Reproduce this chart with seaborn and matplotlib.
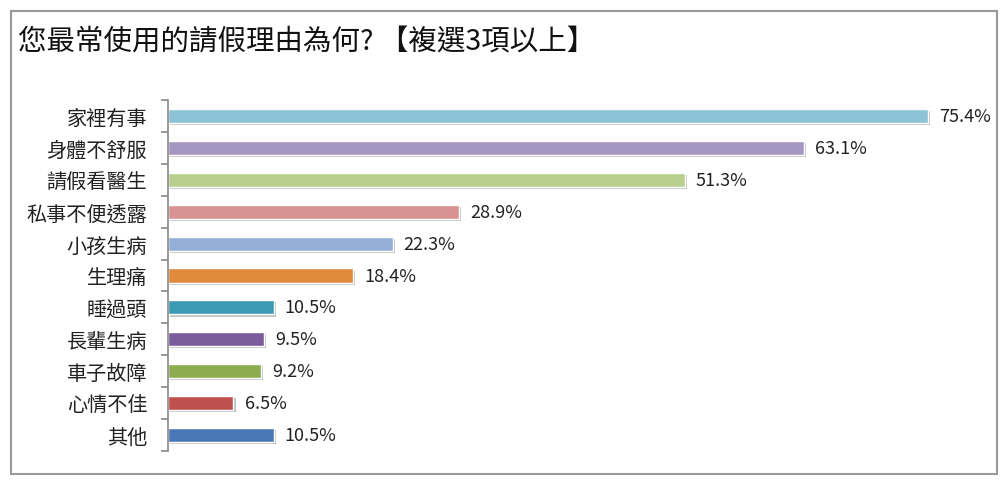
import seaborn as sns
import matplotlib.pyplot as plt
import matplotlib.patheffects as pe
from matplotlib.patches import Rectangle
from matplotlib.ticker import FixedLocator
import pandas as pd

# Data
reasons = ['家裡有事', '身體不舒服', '請假看醫生', '私事不便透露', '小孩生病', '生理痛',
           '睡過頭', '長輩生病', '車子故障', '心情不佳', '其他']
percent = [75.4, 63.1, 51.3, 28.9, 22.3, 18.4, 10.5, 9.5, 9.2, 6.5, 10.5]
colors = ['#8cc3d6', '#a697c2', '#b9cf8e', '#d79391', '#93afd6', '#df8a3d',
          '#3c9ab4', '#7b5d9c', '#8dab4f', '#c0504d', '#4a78b6']
title = '您最常使用的請假理由為何? 【複選3項以上】'

df = pd.DataFrame({'reason': reasons, 'pct': percent})

sns.set_style('white')
plt.rcParams['font.family'] = ['Noto Sans CJK TC', 'DejaVu Sans']

fig = plt.figure(figsize=(10.08, 4.85), dpi=100)
ax = fig.add_axes([168 / 1008, 33 / 485, 806 / 1008, 351 / 485])

sns.barplot(data=df, x='pct', y='reason', hue='reason', palette=colors,
            saturation=1, legend=False, orient='h', width=0.44, ax=ax,
            edgecolor='white', linewidth=1.0)

# soft drop shadow like the office chart style
for bar in ax.patches:
    bar.set_path_effects([pe.SimplePatchShadow(offset=(1.5, -1.5), shadow_rgbFace='#777777', alpha=0.45),
                          pe.Normal()])

for i, v in enumerate(percent):
    ax.text(v + 1.1, i, f'{v}%', va='center', ha='left', fontsize=13, color='#222222')

ax.set_xlim(0, 80)
ax.set_ylim(len(reasons) - 0.5, -0.5)
ax.set_xlabel('')
ax.set_ylabel('')
ax.set_xticks([])
ax.tick_params(axis='y', which='major', length=0, labelsize=14.5, pad=15, labelcolor='#222222')
ax.yaxis.set_minor_locator(FixedLocator([i - 0.5 for i in range(len(reasons) + 1)]))
ax.tick_params(axis='y', which='minor', length=5, width=1.2, color='#888888', left=True)
for side in ['top', 'right', 'bottom']:
    ax.spines[side].set_visible(False)
ax.spines['left'].set_color('#888888')
ax.spines['left'].set_linewidth(1.2)

fig.text(18 / 1008, 1 - 42 / 485, title, fontsize=20.5, va='center', ha='left', color='#111111')

fig.patches.append(Rectangle((11 / 1008, 10 / 485), 986 / 1008, 463 / 485,
                             transform=fig.transFigure, fill=False,
                             edgecolor='#999999', linewidth=1.5))

fig.savefig('out.png', dpi=100)
